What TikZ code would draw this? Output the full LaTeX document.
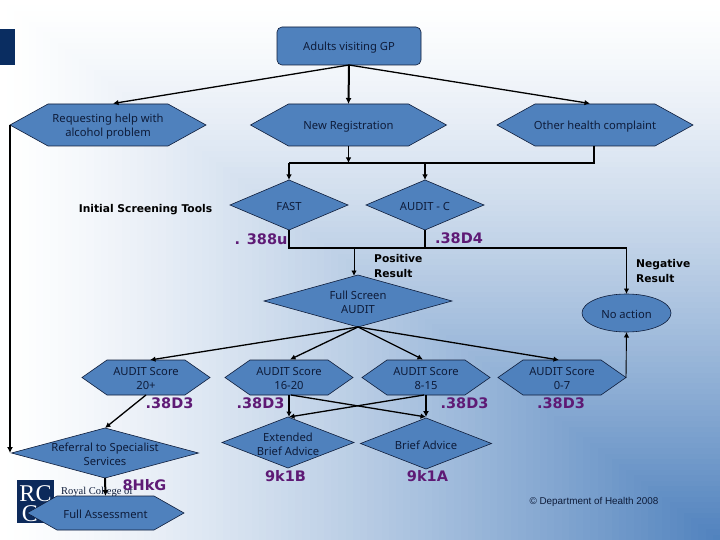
\documentclass[tikz,border=0pt]{standalone}
\usepackage{fontspec}
\setmainfont{Noto Sans}
\newfontfamily\boldlab{DejaVu Sans}[BoldFont={DejaVu Sans Bold}]
\newfontfamily\arialf{Liberation Sans}
\newfontfamily\serifl{Liberation Serif}
\usetikzlibrary{shapes.geometric,arrows.meta}
\makeatletter
\pgfkeys{/tikz/hex inset/.store in=\hexinset,/tikz/hex inset=20pt}
\pgfdeclareshape{hexbox}{
  \inheritsavedanchors[from=rectangle]
  \inheritanchorborder[from=rectangle]
  \inheritanchor[from=rectangle]{center}
  \inheritanchor[from=rectangle]{north}
  \inheritanchor[from=rectangle]{south}
  \inheritanchor[from=rectangle]{east}
  \inheritanchor[from=rectangle]{west}
  \backgroundpath{
    \southwest \pgf@xa=\pgf@x \pgf@ya=\pgf@y
    \northeast \pgf@xb=\pgf@x \pgf@yb=\pgf@y
    \pgf@yc=.5\pgf@ya \advance\pgf@yc by .5\pgf@yb
    \pgfmathsetlength{\pgf@xc}{\hexinset}
    \pgfpathmoveto{\pgfqpoint{\pgf@xa}{\pgf@yc}}
    \pgfpathlineto{\pgfpoint{\pgf@xa+\pgf@xc}{\pgf@yb}}
    \pgfpathlineto{\pgfpoint{\pgf@xb-\pgf@xc}{\pgf@yb}}
    \pgfpathlineto{\pgfqpoint{\pgf@xb}{\pgf@yc}}
    \pgfpathlineto{\pgfpoint{\pgf@xb-\pgf@xc}{\pgf@ya}}
    \pgfpathlineto{\pgfpoint{\pgf@xa+\pgf@xc}{\pgf@ya}}
    \pgfpathclose
  }
}
\makeatother
\definecolor{bgblue}{HTML}{4F81BD}
\definecolor{navy}{HTML}{0B2F66}
\definecolor{ink}{HTML}{0E1C3A}
\definecolor{codepurple}{HTML}{5E1A75}
\tikzset{
  base/.style={draw=ink,line width=0.6pt,fill=bgblue,inner sep=0pt,outer sep=0pt},
  intext/.style={font=\fontsize{11.2}{14}\selectfont,text=ink,align=center,inner sep=0pt},
  every label/.style={intext,yshift=-1.3pt},
  hexa/.style={base,shape=hexbox,hex inset=#1},
  diam/.style={base,diamond,aspect=2.3},
  code/.style={font=\boldlab\bfseries\fontsize{14.5}{16}\selectfont,text=codepurple,inner sep=0pt},
  note/.style={font=\boldlab\bfseries\fontsize{10.7}{15}\selectfont,text=black,inner sep=0pt,align=left},
  connthin/.style={draw=black,line width=0.9pt,-{Latex[length=5.5pt,width=5.5pt]}},
  conn/.style={draw=black,line width=1.3pt,-{Latex[length=5.5pt,width=5.5pt]}},
  connthick/.style={draw=black,line width=2pt,-{Latex[length=6pt,width=6pt]}},
  plain/.style={draw=black,line width=1.5pt},
}
\begin{document}
\begin{tikzpicture}[x=1pt,y=-1pt]
\useasboundingbox (0,0) rectangle (720,540);
% background: rectangular gradient out of the lower right corner
\fill[white] (0,0) rectangle (720,540);
\foreach \i in {100,99,...,1}{
  \pgfmathsetmacro{\p}{100*pow(1-\i/100,1.3)}
  \fill[bgblue!\p!white] ({720-7.2*\i},{540-5.4*\i}) rectangle (720,540);
}
\fill[navy!95!black] (0,29) rectangle (15,65);
% logo
\fill[navy!75!ink] (17,480) rectangle (54,523);
\node[font=\serifl\fontsize{24}{24}\selectfont,text=white,inner sep=0pt] (logorc) at (35.5,494) {RC};
\node[font=\serifl\fontsize{24}{24}\selectfont,text=white,inner sep=0pt] (logoc) at (30,514) {C};
\node[font=\serifl\fontsize{10.5}{12}\selectfont,text=ink,inner sep=0pt] (logot) at (97,492) {Royal College of};
% nodes
\node[base,rounded corners=5pt,minimum width=144pt,minimum height=38pt,label=center:{Adults visiting GP}] (adults) at (349,46) {};
\node[hexa=38pt,minimum width=196pt,minimum height=42pt,label=center:{Requesting help with\\alcohol problem}] (req) at (108,125) {};
\node[hexa=38pt,minimum width=196pt,minimum height=42pt,label=center:{New Registration}] (newreg) at (348.5,125) {};
\node[hexa=38pt,minimum width=196pt,minimum height=42pt,label=center:{Other health complaint}] (other) at (595,125) {};
\node[diam,minimum width=118pt,minimum height=50pt,label=center:{FAST}] (fast) at (289,205) {};
\node[diam,minimum width=118pt,minimum height=50pt,label=center:{AUDIT - C}] (auditc) at (425,205) {};
\node[diam,minimum width=188pt,minimum height=52pt,label=center:{Full Screen\\AUDIT}] (full) at (358,301) {};
\node[base,ellipse,minimum width=89pt,minimum height=38pt,label=center:{No action}] (noact) at (626.5,313) {};
\node[hexa=25pt,minimum width=128pt,minimum height=35pt,label=center:{AUDIT Score\\20+}] (s20) at (146,377.5) {};
\node[hexa=25pt,minimum width=128pt,minimum height=35pt,label=center:{AUDIT Score\\16-20}] (s16) at (289,377.5) {};
\node[hexa=25pt,minimum width=128pt,minimum height=35pt,label=center:{AUDIT Score\\8-15}] (s8) at (426,377.5) {};
\node[hexa=25pt,minimum width=128pt,minimum height=35pt,label=center:{AUDIT Score\\0-7}] (s0) at (562,377.5) {};
\node[diam,minimum width=187pt,minimum height=50pt,label=center:{Referral to Specialist\\Services}] (ref) at (105,453) {};
\node[diam,minimum width=132pt,minimum height=51pt,label=center:{Extended\\Brief Advice}] (ext) at (288,442.5) {};
\node[diam,minimum width=131pt,minimum height=51pt,label=center:{Brief Advice}] (brief) at (426,443.5) {};
\node[hexa=30pt,minimum width=157pt,minimum height=34pt,label=center:{Full Assessment}] (fa) at (105.5,513) {};
% labels
\node[note] (tools) at (145.5,209.5) {Initial Screening Tools};
\node[note,anchor=west] (pos) at (374,266.5) {Positive\\Result};
\node[note,anchor=west] (neg) at (636,271.5) {Negative\\Result};
\node[code] (c388) at (261,239) {. 388u};
\node[code] (c34) at (459,238) {.38D4};
\node[code] (c1) at (169.5,403) {.38D3};
\node[code] (c2) at (260.5,403) {.38D3};
\node[code] (c3) at (464.5,403) {.38D3};
\node[code] (c4) at (561,403) {.38D3};
\node[code] (c5) at (285.5,476) {9k1B};
\node[code] (c6) at (427.5,476) {9k1A};
\node[code] (c7) at (144.5,485) {8HkG};
\node[font=\arialf\fontsize{9.9}{11}\selectfont,text=ink,inner sep=0pt] (copy) at (594,502) {© Department of Health 2008};
% free ends of the connectors
\coordinate (reqin) at (113,103.5);
\coordinate (otherin) at (590,103.5);
\coordinate (busl) at (289,163);
\coordinate (busm) at (348.5,163);
\coordinate (busc) at (425,163);
\coordinate (busr) at (594,163);
\coordinate (otherout) at (594,146);
\coordinate (lowl) at (289,248);
\coordinate (lowc) at (425,248);
\coordinate (lowm) at (354,248);
\coordinate (lowr) at (626.5,248);
\coordinate (fulltop) at (354,276);
\coordinate (fullout) at (358,327);
\coordinate (in20) at (150,360);
\coordinate (in16) at (290,359.5);
\coordinate (in8) at (423,359.5);
\coordinate (in0) at (559,360);
\coordinate (refin) at (10,453);
\coordinate (s20out) at (146,395);
\coordinate (s16o) at (291,395);
\coordinate (s8o) at (424,395);
\coordinate (extin) at (289,417);
\coordinate (briefin) at (426,417);
\coordinate (s16b) at (289,395);
\coordinate (s8b) at (426,395);
% connectors
\draw[conn] (adults.south) -- (reqin);
\draw[connthick] (adults.south) -- (newreg.north);
\draw[conn] (adults.south) -- (otherin);
\draw[connthin] (newreg.south) -- (busm);
\draw[plain] (otherout) -- (busr) -- (busl);
\draw[conn] (busl) -- (fast.north);
\draw[conn] (busc) -- (auditc.north);
\draw[plain] (fast.south) -- (lowl) -- (lowr);
\draw[plain] (auditc.south) -- (lowc);
\draw[connthin] (lowm) -- (fulltop);
\draw[connthin] (lowr) -- (noact.north);
\draw[connthin] (s0.east) -- (noact.south);
\draw[conn] (fullout) -- (in20);
\draw[conn] (fullout) -- (in16);
\draw[conn] (fullout) -- (in8);
\draw[conn] (fullout) -- (in0);
\draw[conn] (s20out) -- (ref.north);
\draw[connthick] (req.west) -- (refin);
\draw[conn] (s16b) -- (extin);
\draw[conn] (s16o) -- (briefin);
\draw[conn] (s8o) -- (extin);
\draw[connthick] (s8b) -- (briefin);
\draw[connthick] (ref.south) -- (fa.north);
\end{tikzpicture}
\end{document}
